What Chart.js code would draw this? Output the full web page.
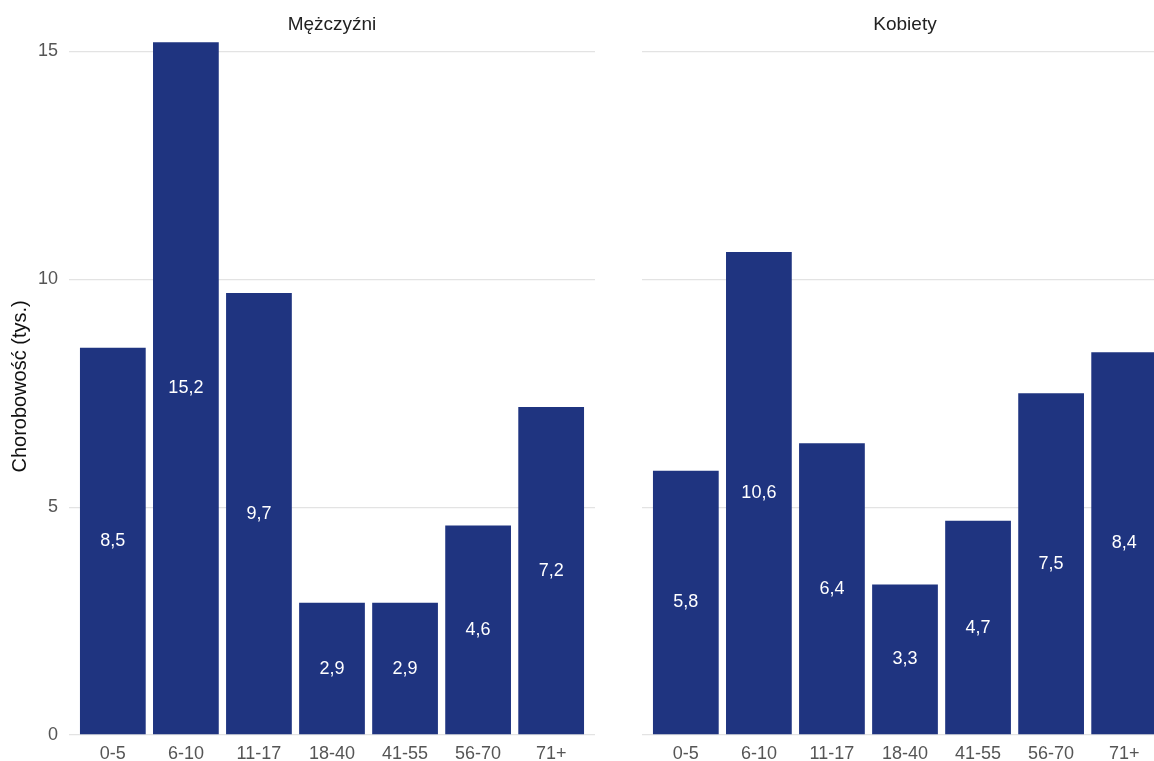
<!DOCTYPE html>
<html>
<head>
<meta charset="utf-8">
<script src="https://cdn.jsdelivr.net/npm/chart.js@4/dist/chart.umd.min.js"></script>
<style>
  html, body { margin: 0; padding: 0; background: #fff; overflow: hidden; }
  #wrap { position: relative; width: 1154px; height: 761px; overflow: hidden; }
  #left { position: absolute; left: 0; top: 0; width: 600px; height: 761px; }
  #right { position: absolute; left: 642px; top: 0; width: 526px; height: 761px; }
</style>
</head>
<body>
<div id="wrap">
  <div id="left"><canvas id="chart-men"></canvas></div>
  <div id="right"><canvas id="chart-women"></canvas></div>
</div>
<script>
// Chorobowość wg grup wieku, dwa panele: mężczyźni / kobiety
const AGE_GROUPS = ['0-5', '6-10', '11-17', '18-40', '41-55', '56-70', '71+'];
const MEN = [8.5, 15.2, 9.7, 2.9, 2.9, 4.6, 7.2];
const WOMEN = [5.8, 10.6, 6.4, 3.3, 4.7, 7.5, 8.4];
const Y_TICKS = [0, 5, 10, 15];
const PANEL_TITLES = ['Mężczyźni', 'Kobiety'];
const Y_TITLE = 'Chorobowość (tys.)';

const BAR_COLOR = '#1f3480';
const TEXT_COLOR = '#555555';
const GRID_COLOR = '#e3e3e3';
const FONT = '"Liberation Sans", Arial, sans-serif';

Chart.defaults.font.family = FONT;
Chart.defaults.font.size = 18;
Chart.defaults.color = TEXT_COLOR;

// white value label in the middle of each bar
const barLabels = {
  id: 'barLabels',
  afterDatasetsDraw(chart) {
    const ctx = chart.ctx;
    ctx.save();
    ctx.fillStyle = '#ffffff';
    ctx.font = '18px ' + FONT;
    ctx.textAlign = 'center';
    ctx.textBaseline = 'middle';
    chart.getDatasetMeta(0).data.forEach((bar, i) => {
      const v = chart.data.datasets[0].data[i].y;
      ctx.fillText(v.toFixed(1).replace('.', ','), bar.x, (bar.y + bar.base) / 2);
    });
    ctx.restore();
  }
};

function makePanel(canvasId, values, title, showY) {
  return new Chart(document.getElementById(canvasId), {
    type: 'bar',
    data: {
      datasets: [{
        data: values.map((v, i) => ({ x: i, y: v })),
        backgroundColor: BAR_COLOR,
        borderWidth: 0,
        categoryPercentage: 0.9,
        barPercentage: 1
      }]
    },
    plugins: [barLabels],
    options: {
      responsive: true,
      maintainAspectRatio: false,
      animation: false,
      layout: { padding: { left: 0, right: showY ? 5 : 0, top: 0, bottom: 0 } },
      plugins: {
        legend: { display: false },
        tooltip: { enabled: false },
        title: {
          display: true,
          text: title,
          fullSize: false,
          color: '#222222',
          font: { size: 19, weight: 'normal' },
          padding: { top: 13, bottom: 2 }
        }
      },
      scales: {
        x: {
          type: 'linear',
          min: -0.6,
          max: AGE_GROUPS.length - 0.4,
          offset: false,
          grid: { display: false },
          border: { display: false },
          afterBuildTicks: s => { s.ticks = AGE_GROUPS.map((_, i) => ({ value: i })); },
          afterFit: s => { s.height = 26; },
          ticks: {
            padding: 0,
            maxRotation: 0,
            autoSkip: false,
            color: TEXT_COLOR,
            callback: v => AGE_GROUPS[v]
          }
        },
        y: {
          min: 0,
          max: 15.3,
          grid: { color: GRID_COLOR, lineWidth: 1.3, drawTicks: false },
          border: { display: false },
          afterBuildTicks: s => { s.ticks = Y_TICKS.map(v => ({ value: v })); },
          afterFit: s => { s.width = showY ? 69 : 0; },
          ticks: { display: showY, padding: 11, color: TEXT_COLOR },
          title: {
            display: showY,
            text: Y_TITLE,
            color: '#111111',
            font: { size: 20 },
            padding: { top: 8, bottom: 0 }
          }
        }
      }
    }
  });
}

makePanel('chart-men', MEN, PANEL_TITLES[0], true);
makePanel('chart-women', WOMEN, PANEL_TITLES[1], false);
</script>
</body>
</html>
